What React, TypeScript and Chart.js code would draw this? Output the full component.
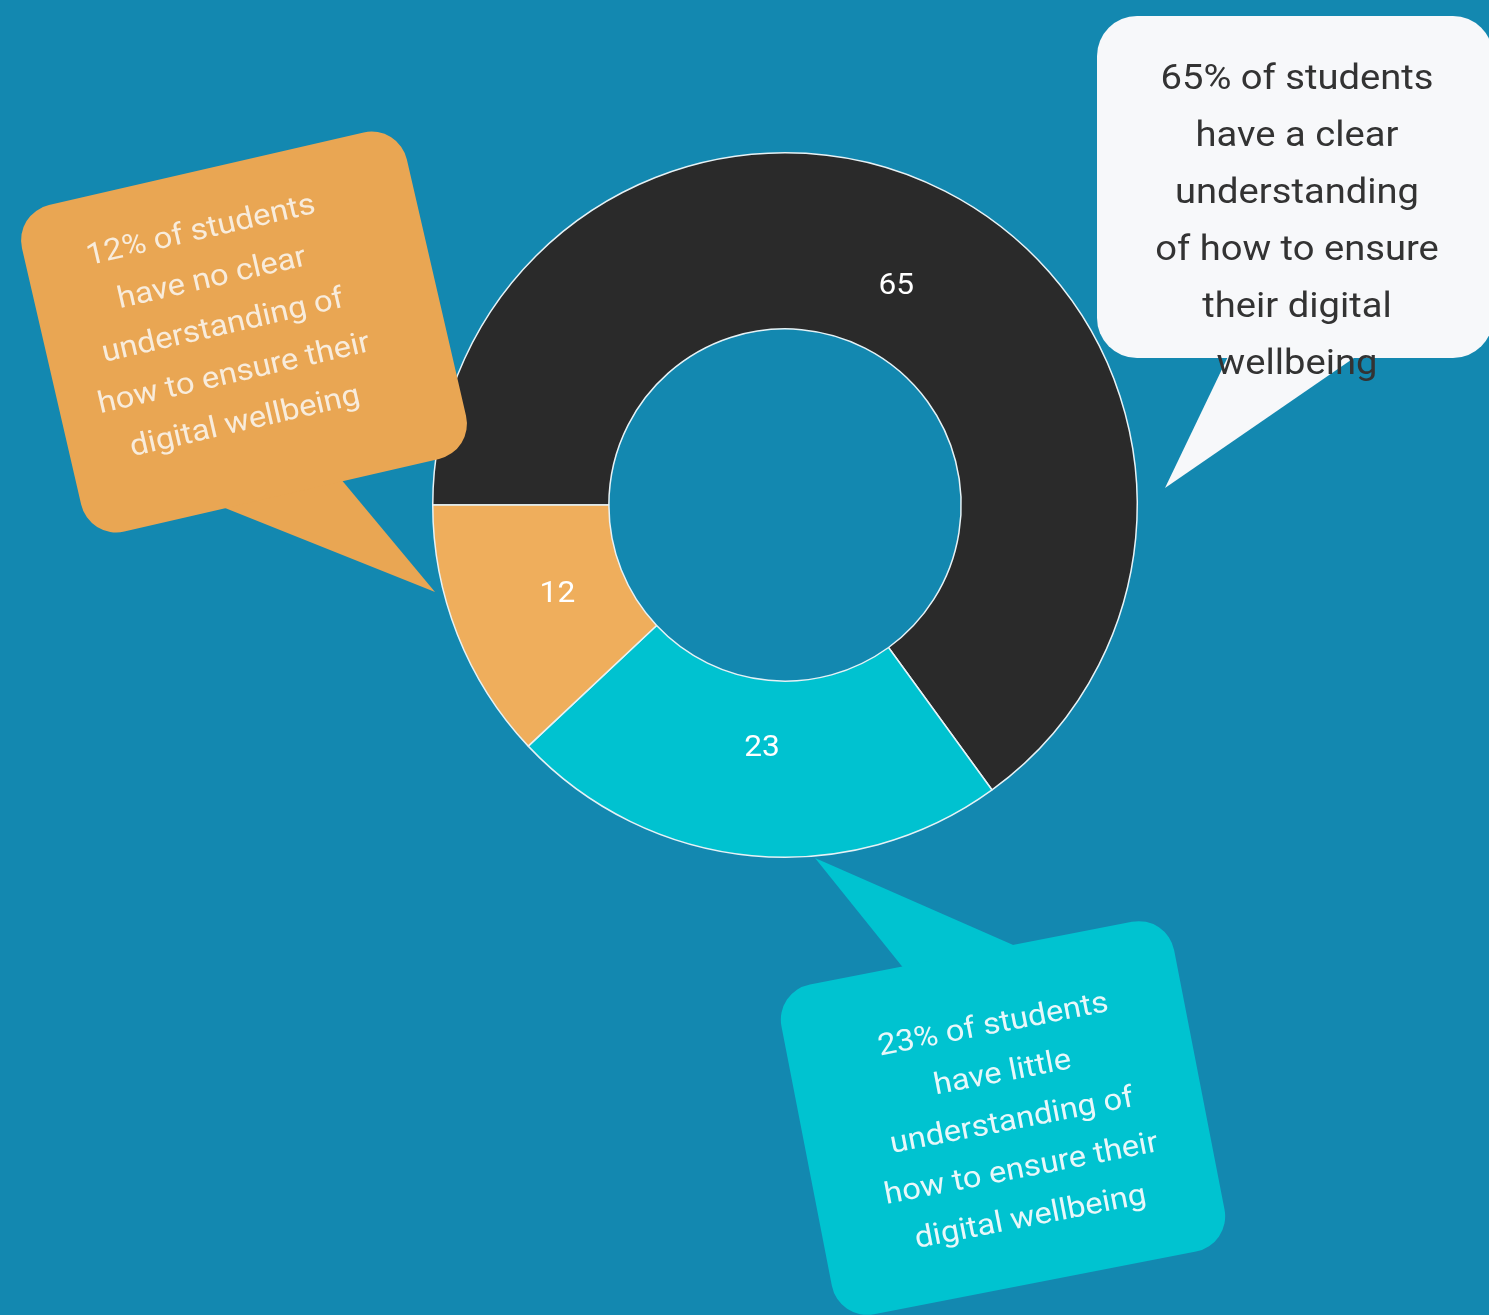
import { useEffect, useRef } from "react";
import { Chart, registerables } from "chart.js";

Chart.register(...registerables);

// ---- data ----
const categories = [
  "Clear understanding",
  "Little understanding",
  "No clear understanding",
];
const values = [65, 23, 12];
const segmentColors = ["#2a2a2a", "#00c2d0", "#efae5c"];

const whiteCalloutLines = [
  "65% of students",
  "have a clear",
  "understanding",
  "of how to ensure",
  "their digital",
  "wellbeing",
];
const cyanCalloutLines = [
  "23% of students",
  "have little",
  "understanding of",
  "how to ensure their",
  "digital wellbeing",
];
const orangeCalloutLines = [
  "12% of students",
  "have no clear",
  "understanding of",
  "how to ensure their",
  "digital wellbeing",
];

const BG = "#1388b0";
const FONT = "Roboto, 'Noto Sans', sans-serif";
const TEXT_SCALE_X = 1.09;

type Callout = {
  cx: number;
  cy: number;
  w: number;
  h: number;
  r: number;
  angle: number;
  fill: string;
  tail: [number, number][];
  lines: string[];
  textColor: string;
  fontSize: number;
  lineGap: number;
  tx: number;
  ty: number;
};

const callouts: Callout[] = [
  {
    cx: 1295,
    cy: 187,
    w: 396,
    h: 342,
    r: 40,
    angle: 0,
    fill: "#f7f8fa",
    tail: [
      [1236, 340],
      [1380, 340],
      [1165, 488],
    ],
    lines: whiteCalloutLines,
    textColor: "#333333",
    fontSize: 35,
    lineGap: 57,
    tx: 1297,
    ty: 223,
  },
  {
    cx: 1003,
    cy: 1118,
    w: 400,
    h: 336,
    r: 36,
    angle: -11,
    fill: "#00c3d0",
    tail: [
      [913, 980],
      [1036, 955],
      [815, 858],
    ],
    lines: cyanCalloutLines,
    textColor: "#e8f8fa",
    fontSize: 30,
    lineGap: 49,
    tx: 1012,
    ty: 1122,
  },
  {
    cx: 244,
    cy: 332,
    w: 395,
    h: 335,
    r: 36,
    angle: -13,
    fill: "#e9a653",
    tail: [
      [205, 500],
      [335, 472],
      [435, 592],
    ],
    lines: orangeCalloutLines,
    textColor: "#f8ecdc",
    fontSize: 30,
    lineGap: 49,
    tx: 223,
    ty: 327,
  },
];

const segLabelPlugin = {
  id: "segLabels",
  afterDatasetsDraw(chart: any) {
    const ctx = chart.ctx;
    const meta = chart.getDatasetMeta(0);
    ctx.save();
    ctx.fillStyle = "#ffffff";
    ctx.font = `29px ${FONT}`;
    ctx.textAlign = "center";
    ctx.textBaseline = "middle";
    meta.data.forEach((arc: any, i: number) => {
      const p = arc.getProps(
        ["x", "y", "startAngle", "endAngle", "innerRadius", "outerRadius"],
        true
      );
      const mid = (p.startAngle + p.endAngle) / 2;
      const r = p.innerRadius + (p.outerRadius - p.innerRadius) * 0.39;
      ctx.save();
      ctx.translate(p.x + Math.cos(mid) * r, p.y + Math.sin(mid) * r);
      ctx.scale(TEXT_SCALE_X, 1);
      ctx.fillText(String(values[i]), 0, 0);
      ctx.restore();
    });
    ctx.restore();
  },
};

const calloutPlugin = {
  id: "callouts",
  afterDraw(chart: any) {
    const ctx = chart.ctx;
    callouts.forEach((c) => {
      ctx.save();
      ctx.fillStyle = c.fill;
      ctx.beginPath();
      ctx.moveTo(c.tail[0][0], c.tail[0][1]);
      ctx.lineTo(c.tail[1][0], c.tail[1][1]);
      ctx.lineTo(c.tail[2][0], c.tail[2][1]);
      ctx.closePath();
      ctx.fill();

      ctx.translate(c.cx, c.cy);
      ctx.rotate((c.angle * Math.PI) / 180);
      ctx.beginPath();
      ctx.roundRect(-c.w / 2, -c.h / 2, c.w, c.h, c.r);
      ctx.fill();
      ctx.restore();

      ctx.save();
      ctx.translate(c.tx, c.ty);
      ctx.rotate((c.angle * Math.PI) / 180);
      ctx.scale(TEXT_SCALE_X, 1);
      ctx.fillStyle = c.textColor;
      ctx.font = `${c.fontSize}px ${FONT}`;
      ctx.textAlign = "center";
      ctx.textBaseline = "middle";
      const n = c.lines.length;
      c.lines.forEach((line, i) => {
        ctx.fillText(line, 0, (i - (n - 1) / 2) * c.lineGap);
      });
      ctx.restore();
    });
  },
};

export default function App() {
  const canvasRef = useRef<HTMLCanvasElement | null>(null);

  useEffect(() => {
    document.body.style.margin = "0";
    const canvas = canvasRef.current;
    if (!canvas) return;
    const chart = new Chart(canvas, {
      type: "doughnut",
      data: {
        labels: categories,
        datasets: [
          {
            data: values,
            backgroundColor: segmentColors,
            borderColor: "#e6f2f6",
            borderWidth: 1.5,
            hoverOffset: 0,
          },
        ],
      },
      options: {
        animation: false,
        responsive: false,
        maintainAspectRatio: false,
        devicePixelRatio: 1,
        rotation: -90,
        cutout: "50%",
        layout: { padding: { left: 432, right: 351, top: 152, bottom: 457 } },
        plugins: {
          legend: { display: false },
          tooltip: { enabled: false },
        },
      },
      plugins: [segLabelPlugin, calloutPlugin],
    } as any);
    return () => chart.destroy();
  }, []);

  return (
    <div
      style={{
        position: "relative",
        width: 1489,
        height: 1315,
        background: BG,
        overflow: "hidden",
      }}
    >
      <canvas
        ref={canvasRef}
        width={1489}
        height={1315}
        style={{ display: "block", width: 1489, height: 1315 }}
      />
    </div>
  );
}
